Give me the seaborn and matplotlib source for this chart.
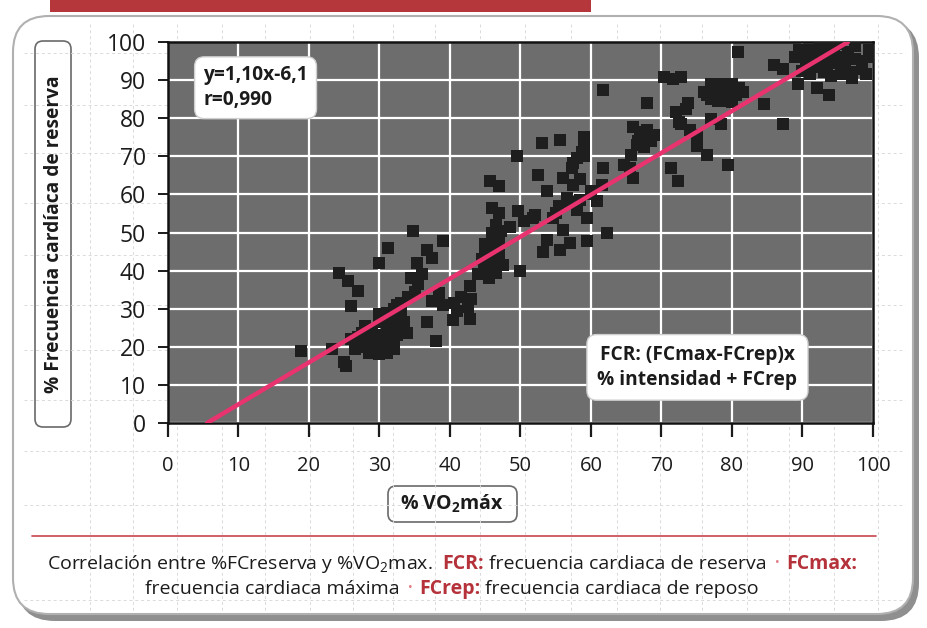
import matplotlib
matplotlib.use("Agg")
import numpy as np
import pandas as pd
import matplotlib.pyplot as plt
import seaborn as sns
from matplotlib.patches import FancyBboxPatch, Rectangle

# ---- data -------------------------------------------------------------
vo2 = [18.9, 23.3, 25.0, 25.3, 24.3, 25.6, 26.9, 26.0,
       26.0, 27.0, 28.0, 29.0, 30.0, 31.0, 32.0, 27.5, 29.0, 30.5, 32.5, 28.5,
       31.0, 26.5, 29.5, 33.0, 28.0, 30.0, 31.5, 33.0,
       27.5, 28.5, 29.5, 30.5, 31.5, 32.5, 27.0, 30.0, 32.0, 33.5, 29.0, 31.0,
       31.0, 32.5, 30.0,
       32.0, 33.0, 34.0, 35.0, 35.5, 34.5, 36.0, 33.0, 31.5, 33.9, 30.0, 31.2,
       34.7, 35.3, 36.7, 37.4, 39.0,
       37.5, 38.5, 39.0, 40.5, 41.5, 42.5, 41.0, 43.0, 36.7, 40.4, 42.8, 38.0, 42.8,
       44.0, 45.0, 46.0, 45.5, 46.5, 47.0, 46.0, 45.0, 44.5, 47.5, 50.0, 46.5,
       45.5, 46.5, 47.0, 45.0, 46.0, 47.2, 44.8,
       53.0, 55.6, 59.0, 59.0, 59.0, 57.5, 49.5, 61.7, 66.6, 52.5, 56.0, 57.5,
       45.7, 47.0, 53.8, 56.6, 60.9, 46.0, 47.0, 49.6, 51.8, 54.6, 59.4, 56.0,
       62.3, 53.8, 57.0, 59.4, 55.6, 53.2, 58.0, 57.0, 55.0, 60.0, 58.5, 57.3, 58.0,
       48.5, 50.5, 52.0, 55.5, 58.5, 60.0, 61.5, 59.0, 58.7,
       61.7, 68.0, 70.4, 72.8, 71.6, 73.7, 72.0, 72.5, 74.0, 75.0, 73.5, 66.0,
       67.4, 66.5, 68.0, 69.0, 72.7, 75.0, 76.5, 71.3, 79.5, 72.4, 65.6, 61.7,
       66.0, 64.7, 65.7, 77.0, 78.4, 87.2, 84.5, 80.8, 86.0, 87.3, 92.0, 93.7, 89.3,
       67.0, 68.5, 67.5,
       76.5, 77.5, 78.5, 79.5, 80.5, 81.0, 78.0, 79.5, 77.0,
       76.0, 77.0, 78.5, 80.0, 81.5, 79.0, 80.0, 77.5, 78.5,
       89.0, 90.5, 91.0, 92.5, 93.0, 94.0, 95.0, 96.5, 97.0, 98.5, 99.5, 99.0,
       90.0, 95.5, 93.5,
       89.5, 90.0, 91.5, 92.0, 92.5, 93.5, 94.5, 95.0, 96.0, 96.0, 97.5, 97.5,
       98.5, 99.5, 91.0, 94.0, 97.0]
fcr = [19.0, 19.5, 16.0, 15.0, 39.5, 37.2, 34.6, 30.6,
       22.0, 21.0, 20.0, 19.5, 20.0, 21.0, 22.0, 23.5, 24.0, 23.0, 24.5, 18.5,
       18.5, 19.5, 22.0, 25.0, 25.5, 26.5, 27.5, 29.0,
       20.5, 21.5, 20.5, 21.5, 22.5, 23.0, 22.5, 18.0, 19.5, 26.5, 23.0, 25.5,
       29.0, 31.0, 28.5,
       30.0, 31.5, 33.0, 34.5, 36.5, 38.0, 39.0, 28.0, 24.8, 23.5, 42.0, 46.0,
       50.4, 42.0, 45.4, 43.3, 47.8,
       32.0, 34.0, 31.0, 31.5, 33.0, 30.5, 29.5, 32.5, 26.6, 27.0, 27.4, 21.4, 36.0,
       39.0, 40.5, 42.0, 44.0, 46.0, 48.0, 50.0, 47.0, 43.0, 41.5, 40.0, 52.0,
       38.0, 39.5, 44.0, 45.5, 48.0, 50.5, 41.5,
       73.6, 74.4, 70.0, 72.5, 75.0, 68.3, 70.0, 67.0, 74.0, 65.0, 64.4, 62.5,
       63.6, 62.3, 61.0, 59.0, 58.3, 56.5, 55.0, 55.6, 53.8, 53.8, 53.8, 50.7,
       49.9, 48.0, 47.2, 47.8, 45.4, 45.0, 56.0, 58.0, 55.0, 60.0, 64.0, 67.0, 69.5,
       51.5, 53.0, 54.5, 57.0, 58.5, 61.0, 62.5, 73.5, 71.0,
       87.3, 84.0, 90.8, 90.8, 90.2, 84.0, 81.5, 79.0, 77.0, 75.5, 82.5, 77.6,
       75.0, 73.0, 77.0, 75.5, 78.4, 72.8, 70.4, 67.0, 67.8, 63.6, 67.0, 67.0,
       64.4, 67.8, 70.4, 79.7, 78.4, 78.4, 83.7, 97.4, 94.0, 93.0, 88.0, 86.0, 89.0,
       76.5, 74.0, 72.5,
       86.0, 88.0, 87.0, 88.5, 86.0, 88.0, 84.5, 84.5, 85.0,
       87.0, 89.0, 89.0, 89.0, 87.0, 86.0, 84.2, 86.5, 85.5,
       96.0, 94.0, 98.0, 96.0, 92.0, 99.0, 94.5, 97.5, 92.0, 95.0, 98.0, 91.5,
       92.5, 91.5, 96.5,
       98.0, 96.5, 95.5, 93.5, 99.0, 94.0, 97.0, 99.5, 96.0, 93.5, 99.0, 95.5,
       93.0, 96.0, 91.5, 91.0, 90.5]

slope, intercept = 1.10, -6.1
r_value = 0.990
x_ticks = list(range(0, 101, 10))
y_ticks = list(range(0, 101, 10))

# ---- style --------------------------------------------------------------
sns.set_theme(style="white")
plt.rcParams['font.family'] = ['Open Sans', 'DejaVu Sans']
plt.rcParams['mathtext.fontset'] = 'custom'
plt.rcParams['mathtext.rm'] = 'Open Sans'
plt.rcParams['mathtext.bf'] = 'Open Sans:bold'
plt.rcParams['mathtext.it'] = 'Open Sans:italic'

INK = '#1b1b1b'
RED = '#b5323a'
PINK = '#e8336f'

W, H = 928, 628
fig = plt.figure(figsize=(W / 100, H / 100), dpi=100)
fig.patch.set_facecolor('white')

# Background layer in pixel coordinates
bg = fig.add_axes([0, 0, 1, 1], zorder=0)
bg.set_xlim(0, W)
bg.set_ylim(H, 0)
bg.axis('off')

# rounded page panel with shadow
bg.add_patch(FancyBboxPatch((17, 20), 902, 601,
                            boxstyle='round,pad=0,rounding_size=38',
                            fc='#8f8f8f', ec='none'))
bg.add_patch(FancyBboxPatch((13, 16), 900, 598,
                            boxstyle='round,pad=0,rounding_size=36',
                            fc='white', ec='#b0b0b0', lw=1.5))
bg.add_patch(Rectangle((50, 0), 541, 12, fc='#b5373b', ec='none'))

# faint printed guide lines on the page
for gx in [90, 133, 177, 222, 265, 310, 353, 393, 435, 480, 525, 571, 617,
           660, 702, 747, 789, 834, 878]:
    bg.plot([gx, gx], [24, 612], color='#dadada', lw=0.7, ls=(0, (3, 3)))
for gy in [53, 105, 153, 203, 255, 305, 350, 400, 451, 505, 600]:
    bg.plot([24, 905], [gy, gy], color='#dadada', lw=0.7, ls=(0, (3, 3)))

# separator above caption
bg.plot([32, 876], [536, 536], color='#c8464a', lw=1.2)

# y-axis title box
bg.add_patch(FancyBboxPatch((35, 41), 36, 386,
                            boxstyle='round,pad=0,rounding_size=8',
                            fc='white', ec='#6a6a6a', lw=1.2))
bg.text(54, 234, '% Frecuencia cardíaca de reserva', rotation=90,
        ha='center', va='center', fontsize=13.8, fontweight='bold', color=INK)

# x-axis title box
bg.add_patch(FancyBboxPatch((388, 486), 129, 36,
                            boxstyle='round,pad=0,rounding_size=8',
                            fc='white', ec='#6a6a6a', lw=1.2))
bg.text(452, 503, r'% VO$_\mathbf{2}$máx', ha='center', va='center',
        fontsize=14, fontweight='bold', color=INK)

# ---- main plot ----------------------------------------------------------
ax = fig.add_axes([168 / W, 1 - 423 / H, 705 / W, 381 / H], zorder=2)
ax.set_facecolor('#6d6d6d')
ax.set_xlim(0, 100)
ax.set_ylim(0, 100)
ax.set_xticks(x_ticks)
ax.set_yticks(y_ticks)
ax.grid(True, color='white', lw=1.6)
ax.set_axisbelow(True)

df = pd.DataFrame({'vo2': vo2, 'fcr': fcr})
sns.scatterplot(data=df, x='vo2', y='fcr', marker='s', s=80,
                color='#1e1e1e', linewidth=0, ax=ax, zorder=3)

# regression line, clipped to the 0-100 range of the y axis
x0 = (0 - intercept) / slope
x1 = (100 - intercept) / slope
fit = pd.DataFrame({'vo2': [x0, x1], 'fcr': [slope * x0 + intercept, slope * x1 + intercept]})
sns.lineplot(data=fit, x='vo2', y='fcr', color=PINK, lw=3.2, ax=ax, zorder=4)

ax.set_xlabel('')
ax.set_ylabel('')
for s in ax.spines.values():
    s.set_visible(True)
    s.set_color('#111111')
    s.set_linewidth(1.8)
ax.tick_params(axis='y', direction='out', length=7, width=1.4, pad=9,
               labelsize=16.5, colors=INK, left=True)
ax.tick_params(axis='x', direction='out', length=10, width=1.6, pad=14,
               labelsize=14.5, colors=INK, bottom=True)

eq_txt = f'y={slope:.2f}x{intercept:+.1f}'.replace('.', ',')
r_txt = f'r={r_value:.3f}'.replace('.', ',')
ax.text(5.0, 88.0, eq_txt + '\n' + r_txt, ha='left', va='center',
        fontsize=13.8, fontweight='bold', color=INK, linespacing=1.3, zorder=6,
        bbox=dict(boxstyle='round,pad=0.45,rounding_size=0.5', fc='white',
                  ec='#cfcfcf', lw=1))
ax.text(75.1, 14.6, 'FCR: (FCmax-FCrep)x\n% intensidad + FCrep', ha='center',
        va='center', fontsize=13.8, fontweight='bold', color=INK,
        linespacing=1.3, zorder=6,
        bbox=dict(boxstyle='round,pad=0.55,rounding_size=0.5', fc='white',
                  ec='#cfcfcf', lw=1))

# ---- caption with highlighted terms ------------------------------------
renderer = fig.canvas.get_renderer()
cap_size = 14


def text_width(txt, **kw):
    t = bg.text(0, 0, txt, **kw)
    w = t.get_window_extent(renderer).width
    t.remove()
    return w


normal = dict(fontsize=cap_size, color=INK)
bold_red = dict(fontsize=cap_size, color=RED, fontweight='bold')
bullet = dict(fontsize=9, color='#e07a82')
space = text_width('a a', **normal) - text_width('aa', **normal)

line1 = [('Correlación entre %FCreserva y %VO$_2$max.', normal, 2),
         ('FCR:', bold_red, 1),
         ('frecuencia cardiaca de reserva', normal, 1.6),
         ('•', bullet, 1.3),
         ('FCmax:', bold_red, 0)]
line2 = [('frecuencia cardiaca máxima', normal, 1.6),
         ('•', bullet, 1.3),
         ('FCrep:', bold_red, 1),
         ('frecuencia cardiaca de reposo', normal, 0)]


def draw_line(parts, cx, y):
    widths = [text_width(t, **st) for t, st, _ in parts]
    total = sum(widths) + sum(g for _, _, g in parts) * space
    x = cx - total / 2
    for (t, st, g), w in zip(parts, widths):
        yy = y - 3 if st is bullet else y
        bg.text(x, yy, t, ha='left', va='baseline', **st)
        x += w + g * space


draw_line(line1, 452, 569)
draw_line(line2, 452, 594)

fig.savefig('out.png', dpi=100, facecolor=fig.get_facecolor())
